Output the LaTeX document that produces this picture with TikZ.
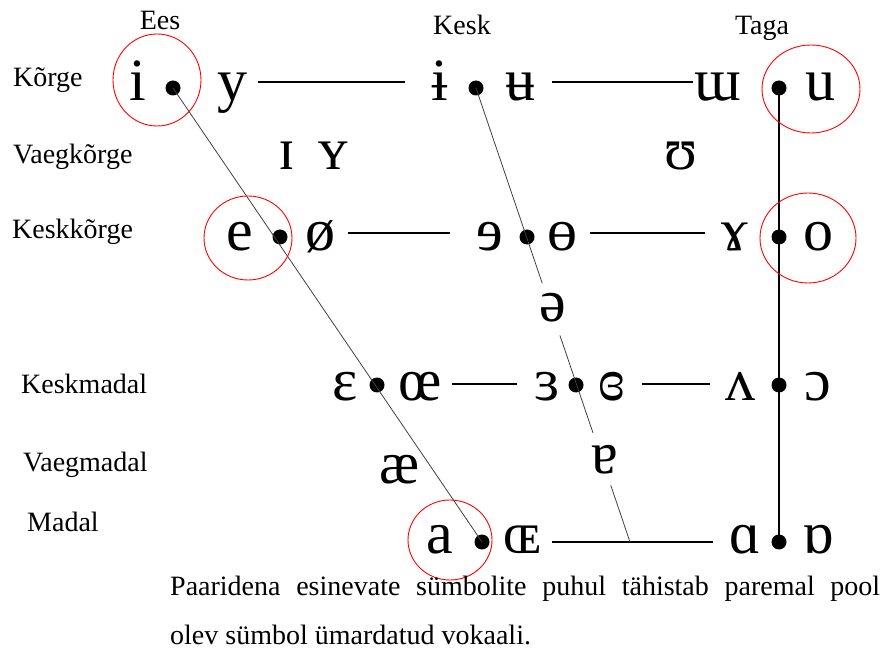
\documentclass[tikz,border=0pt]{standalone}
\usepackage{fontspec}
\setmainfont{Liberation Serif}
\usetikzlibrary{calc}
\begin{document}
\begin{tikzpicture}[x=1pt,y=-1pt,
  lab/.style={font=\fontsize{28}{32}\selectfont, inner sep=0pt, anchor=base west},
  col/.style={font=\fontsize{28}{32}\selectfont, inner sep=0pt, anchor=base},
  sym/.style={font=\fontsize{60}{64}\selectfont, inner sep=0pt, anchor=base},
  vdot/.style={circle, fill=black, inner sep=0pt, minimum size=15pt},
  hline/.style={line width=1.6pt},
  thin/.style={line width=0.8pt, black!75},
  ring/.style={red, line width=0.9pt}]
\useasboundingbox (0,0) rectangle (884,652);
% column headings
\node[col] (ees) at (160,30) {Ees};
\node[col] (kesk) at (462,35) {Kesk};
\node[col] (taga) at (762,35) {Taga};
% row labels
\node[lab] (korge) at (13,87) {Kõrge};
\node[lab] (vkorge) at (13,164) {Vaegkõrge};
\node[lab] (kkorge) at (12,239) {Keskkõrge};
\node[lab] (kmadal) at (21,393) {Keskmadal};
\node[lab] (vmadal) at (23,471) {Vaegmadal};
\node[lab] (madal) at (27,531) {Madal};
% row 1
\node[sym] (si) at (138,101) {i};
\node[vdot] (d1) at (173,88) {};
\node[sym] (sy) at (232,101) {y};
\node[sym] (sbi) at (440,101) {ɨ};
\node[vdot] (d2) at (476,88) {};
\node[sym] (sbu) at (520,101) {ʉ};
\node[sym] (sm) at (718,101) {ɯ};
\node[vdot] (d3) at (779,88) {};
\node[sym] (su) at (820,101) {u};
% row 2
\node[sym] (sI) at (287,170) {ɪ};
\node[sym] (sY) at (333,170) {ʏ};
\node[sym] (sU) at (681,170) {ʊ};
% row 3
\node[sym] (se) at (240,251) {e};
\node[vdot] (d4) at (280,237) {};
\node[sym] (so/) at (320,251) {ø};
\node[sym] (srev) at (490,251) {ɘ};
\node[vdot] (d5) at (527,237) {};
\node[sym] (sbo) at (562,251) {ɵ};
\node[sym] (sgam) at (735,251) {ɤ};
\node[vdot] (d6) at (779,237) {};
\node[sym] (so) at (818,251) {o};
% schwa
\node[sym] (sschwa) at (553,322) {ə};
% row 5
\node[sym] (seps) at (345,400) {ɛ};
\node[vdot] (d7) at (377,385) {};
\node[sym] (soe) at (420,400) {œ};
\node[sym] (srevep) at (547,400) {ɜ};
\node[vdot] (d8) at (576,385) {};
\node[sym] (sclep) at (612,400) {ɞ};
\node[sym] (swedge) at (740,400) {ʌ};
\node[vdot] (d9) at (779,385) {};
\node[sym] (sopeno) at (818,400) {ɔ};
% row 6
\node[sym] (sae) at (400,483) {æ};
\node[sym] (sturna) at (605,473) {ɐ};
% row 7
\node[sym] (sa) at (440,553) {a};
\node[vdot] (d10) at (482,542) {};
\node[sym] (sOE) at (522,553) {ɶ};
\node[sym] (salpha) at (745,553) {ɑ};
\node[vdot] (d11) at (779,542) {};
\node[sym] (sturnalpha) at (818,553) {ɒ};
% horizontal lines
\coordinate (h1a) at (258,82); \coordinate (h1b) at (405,82);
\coordinate (h2a) at (552,82); \coordinate (h2b) at (693,82);
\coordinate (h3a) at (348,233); \coordinate (h3b) at (450,233);
\coordinate (h4a) at (590,233); \coordinate (h4b) at (705,233);
\coordinate (h5a) at (452,384); \coordinate (h5b) at (517,384);
\coordinate (h6a) at (642,384); \coordinate (h6b) at (710,384);
\coordinate (h7a) at (552,542); \coordinate (h7b) at (713,542);
\draw[hline] (h1a) -- (h1b);
\draw[hline] (h2a) -- (h2b);
\draw[hline] (h3a) -- (h3b);
\draw[hline] (h4a) -- (h4b);
\draw[hline] (h5a) -- (h5b);
\draw[hline] (h6a) -- (h6b);
\draw[hline] (h7a) -- (h7b);
% back vertical
\draw[hline] (d3.center) -- (d11.center);
% front diagonal
\draw[thin] (d1.center) -- (d10.center);
% central diagonal with gaps
\coordinate (cend) at (630,542);
\coordinate (g1a) at ($(d2.center)!0.43!(cend)$);
\coordinate (g1b) at ($(d2.center)!0.545!(cend)$);
\coordinate (g2a) at ($(d2.center)!0.76!(cend)$);
\coordinate (g2b) at ($(d2.center)!0.875!(cend)$);
\draw[thin] (d2.center) -- (g1a);
\draw[thin] (g1b) -- (g2a);
\draw[thin] (g2b) -- (cend);
% red rings
\draw[ring] (157,80) ellipse [x radius=44, y radius=46];
\draw[ring] (811,89) ellipse [x radius=49, y radius=44];
\draw[ring] (248,238) ellipse [x radius=44, y radius=42];
\draw[ring] (808,238) ellipse [x radius=48, y radius=45];
\draw[ring] (450,540) ellipse [x radius=42, y radius=40];
% note
\node[lab] (note1) at (170,595) {\makebox[710pt][s]{Paaridena esinevate sümbolite puhul tähistab paremal pool}};
\node[lab] (note2) at (170,644) {olev sümbol ümardatud vokaali.};
\end{tikzpicture}
\end{document}
